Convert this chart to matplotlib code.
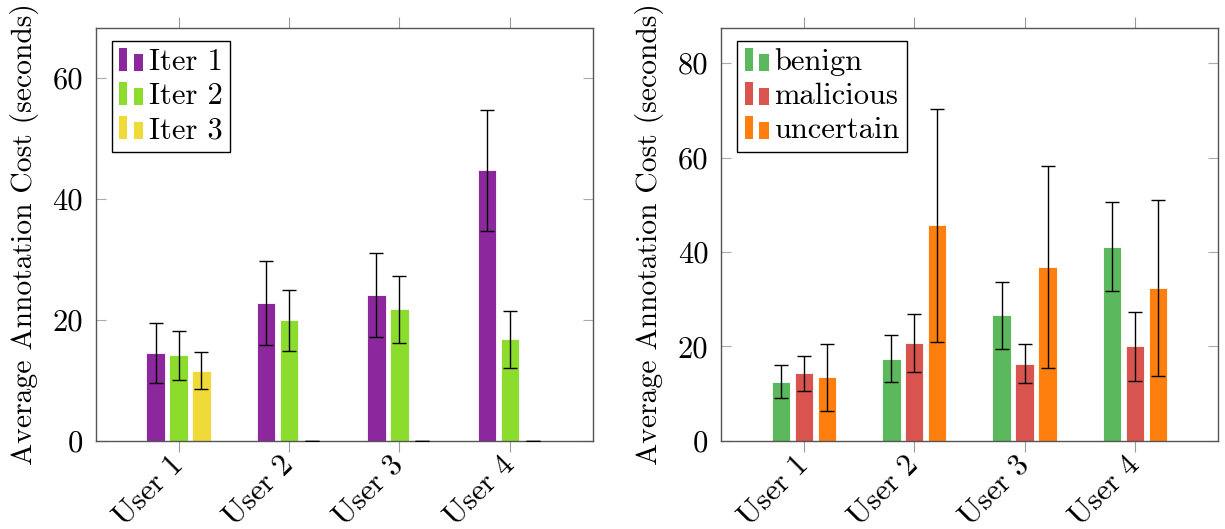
import matplotlib
matplotlib.use("Agg")
import matplotlib.pyplot as plt
import matplotlib.transforms as mtransforms
import numpy as np
from matplotlib.legend_handler import HandlerBase
from matplotlib.patches import Rectangle

plt.rcParams['font.family'] = ['cmr10', 'DejaVu Serif']
plt.rcParams['axes.formatter.use_mathtext'] = True
plt.rcParams['mathtext.fontset'] = 'cm'

users = ["User 1", "User 2", "User 3", "User 4"]

iter_labels = ["Iter 1", "Iter 2", "Iter 3"]
iter_means = [
    [14.5, 22.8, 24.1, 44.7],
    [14.1, 19.9, 21.7, 16.8],
    [11.6, 0.0, 0.0, 0.0],
]
iter_errs = [
    [5.0, 7.0, 6.9, 10.0],
    [4.1, 5.1, 5.5, 4.7],
    [3.0, 0.0, 0.0, 0.0],
]

class_labels = ["benign", "malicious", "uncertain"]
class_means = [
    [12.5, 17.4, 26.6, 41.1],
    [14.3, 20.7, 16.3, 20.0],
    [13.4, 45.6, 36.8, 32.3],
]
class_errs = [
    [3.5, 5.0, 7.1, 9.4],
    [3.7, 6.2, 4.1, 7.3],
    [7.0, 24.6, 21.4, 18.6],
]

iter_colors = ["#8C279E", "#8CDC2D", "#F0DA38"]
class_colors = ["#5CB85C", "#D9534F", "#FF7F0E"]


class TwoBarHandler(HandlerBase):
    def create_artists(self, legend, orig_handle, xdescent, ydescent,
                       width, height, fontsize, trans):
        c = orig_handle.get_facecolor()
        x0 = -xdescent
        y0 = -ydescent
        r1 = Rectangle((x0, y0), width * 0.33, height, facecolor=c, edgecolor='none',
                       transform=trans)
        r2 = Rectangle((x0 + width * 0.62, y0), width * 0.38, height * 0.75,
                       facecolor=c, edgecolor='none', transform=trans)
        return [r1, r2]


fig = plt.figure(figsize=(12.25, 5.29), dpi=100)
ax1 = fig.add_axes([0.0781, 0.1669, 0.4057, 0.7807])
ax2 = fig.add_axes([0.5886, 0.1669, 0.4055, 0.7807])

x = np.arange(1, len(users) + 1)
offset = 0.208
width = 0.168
FS = 22


def draw(ax, means, errs, colors, labels, ymax, yticks):
    handles = []
    for i, (m, e, c, lab) in enumerate(zip(means, errs, colors, labels)):
        pos = x + (i - 1) * offset
        b = ax.bar(pos, m, width=width, color=c, edgecolor='white', linewidth=0.6,
                   label=lab, zorder=2)
        ax.errorbar(pos, m, yerr=e, fmt='none', ecolor='black', elinewidth=1.0,
                    capsize=5.3, capthick=1.0, zorder=3)
        handles.append(b.patches[0])
    ax.set_xlim(0.25, 4.75)
    ax.set_ylim(0, ymax)
    ax.set_yticks(yticks)
    ax.set_yticklabels([str(v) for v in yticks], fontsize=FS)
    ax.set_xticks(x)
    ax.set_xticklabels(users, fontsize=FS, rotation=45, ha='right', va='center',
                       rotation_mode='anchor')
    shift = mtransforms.ScaledTranslation(-4 / 100, 0, fig.dpi_scale_trans)
    for lbl in ax.get_xticklabels():
        lbl.set_transform(lbl.get_transform() + shift)
    ax.tick_params(axis='x', which='both', direction='out', length=8, color='#999999',
                   top=True, bottom=True, pad=6)
    ax.tick_params(axis='y', which='both', direction='in', length=7.2, color='#aaaaaa',
                   left=True, right=True, pad=9)
    for s in ax.spines.values():
        s.set_color('#555555')
        s.set_linewidth(1.0)
    ax.set_ylabel("Average Annotation Cost (seconds)", fontsize=21.3, labelpad=10)
    leg = ax.legend(handles, labels, loc='upper left', bbox_to_anchor=(0.0322, 0.9685),
                    borderaxespad=0, fontsize=FS, frameon=True, fancybox=False,
                    framealpha=1, edgecolor='black', handlelength=0.78, handleheight=0.75,
                    handletextpad=0.18, labelspacing=0.2, borderpad=0.25,
                    handler_map={Rectangle: TwoBarHandler()})
    leg.get_frame().set_linewidth(1.0)


draw(ax1, iter_means, iter_errs, iter_colors, iter_labels, 68.3, [0, 20, 40, 60])
draw(ax2, class_means, class_errs, class_colors, class_labels, 87.5, [0, 20, 40, 60, 80])

fig.savefig("out.png", dpi=100)
